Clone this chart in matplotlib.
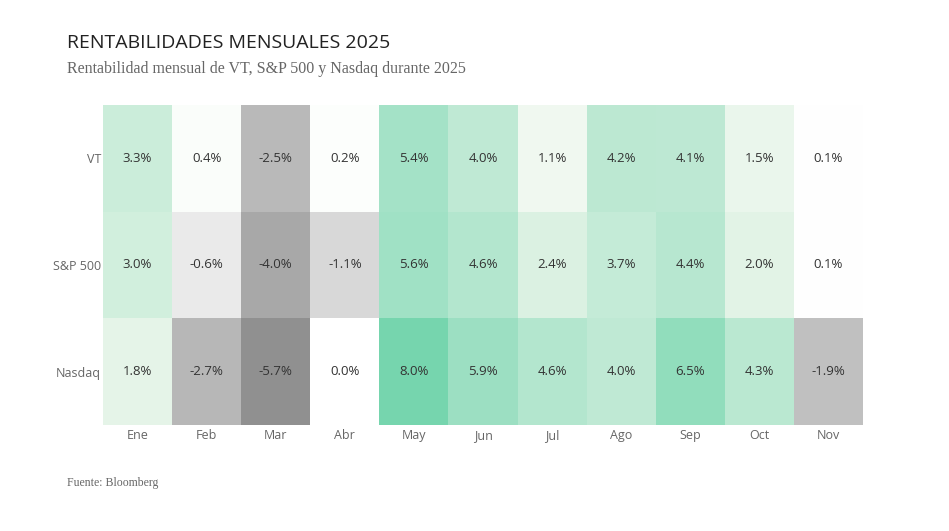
import numpy as np
import matplotlib
matplotlib.use("Agg")
import matplotlib.pyplot as plt
from matplotlib.colors import LinearSegmentedColormap, Normalize

months = ["Ene", "Feb", "Mar", "Abr", "May", "Jun", "Jul", "Ago", "Sep", "Oct", "Nov"]
indices = ["VT", "S&P 500", "Nasdaq"]

vt = [3.3, 0.4, -2.5, 0.2, 5.4, 4.0, 1.1, 4.2, 4.1, 1.5, 0.1]
sp500 = [3.0, -0.6, -4.0, -1.1, 5.6, 4.6, 2.4, 3.7, 4.4, 2.0, 0.1]
nasdaq = [1.8, -2.7, -5.7, 0.0, 8.0, 5.9, 4.6, 4.0, 6.5, 4.3, -1.9]

values = np.array([vt, sp500, nasdaq])

# colour scale: grey for losses, white at zero, green for gains
vmin, vmax = -5.7, 8.0
anchors = [(-5.7, "#909090"), (-4.0, "#a8a8a8"), (-1.9, "#c0c0c0"), (-1.1, "#d9d9d9"),
           (0.0, "#ffffff"), (1.1, "#f0f8f0"), (2.0, "#e2f3e6"), (3.0, "#d1efdd"),
           (4.0, "#bfe9d4"), (5.6, "#a1e1c5"), (8.0, "#76d5ae")]
cmap = LinearSegmentedColormap.from_list(
    "rent", [((v - vmin) / (vmax - vmin), c) for v, c in anchors])
norm = Normalize(vmin=vmin, vmax=vmax)

sans = ["Open Sans", "DejaVu Sans"]
serif = ["Liberation Serif", "DejaVu Serif"]

fig = plt.figure(figsize=(9.49, 5.31), dpi=100)
ax = fig.add_axes([103 / 949, 1 - 425 / 531, 760 / 949, 320 / 531])

ax.pcolormesh(np.arange(len(months) + 1), np.arange(len(indices) + 1), values,
              cmap=cmap, norm=norm, edgecolors="none")
ax.set_xlim(0, len(months))
ax.set_ylim(len(indices), 0)

for i in range(len(indices)):
    for j in range(len(months)):
        ax.text(j + 0.5, i + 0.5, f"{values[i, j]:.1f}%", ha="center", va="center",
                fontsize=9.5, color="#333333", family=sans)

ax.set_xticks(np.arange(len(months)) + 0.5)
ax.set_xticklabels(months, family=sans, fontsize=9, color="#666666")
ax.set_yticks(np.arange(len(indices)) + 0.5)
ax.set_yticklabels(indices, family=sans, fontsize=9, color="#666666")
ax.tick_params(axis="y", length=0, pad=1.5)
ax.tick_params(axis="x", length=0, pad=3)
for s in ax.spines.values():
    s.set_visible(False)

fig.text(67 / 949, 1 - 43 / 531, "RENTABILIDADES MENSUALES 2025", family=sans,
         fontsize=14, color="#222222", va="center")
fig.text(67 / 949, 1 - 69 / 531, "Rentabilidad mensual de VT, S&P 500 y Nasdaq durante 2025",
         family=serif, fontsize=11.5, color="#666666", va="center")
fig.text(67 / 949, 1 - 483 / 531, "Fuente: Bloomberg", family=serif, fontsize=8.5,
         color="#666666", va="center")

fig.savefig("out.png", dpi=100)
